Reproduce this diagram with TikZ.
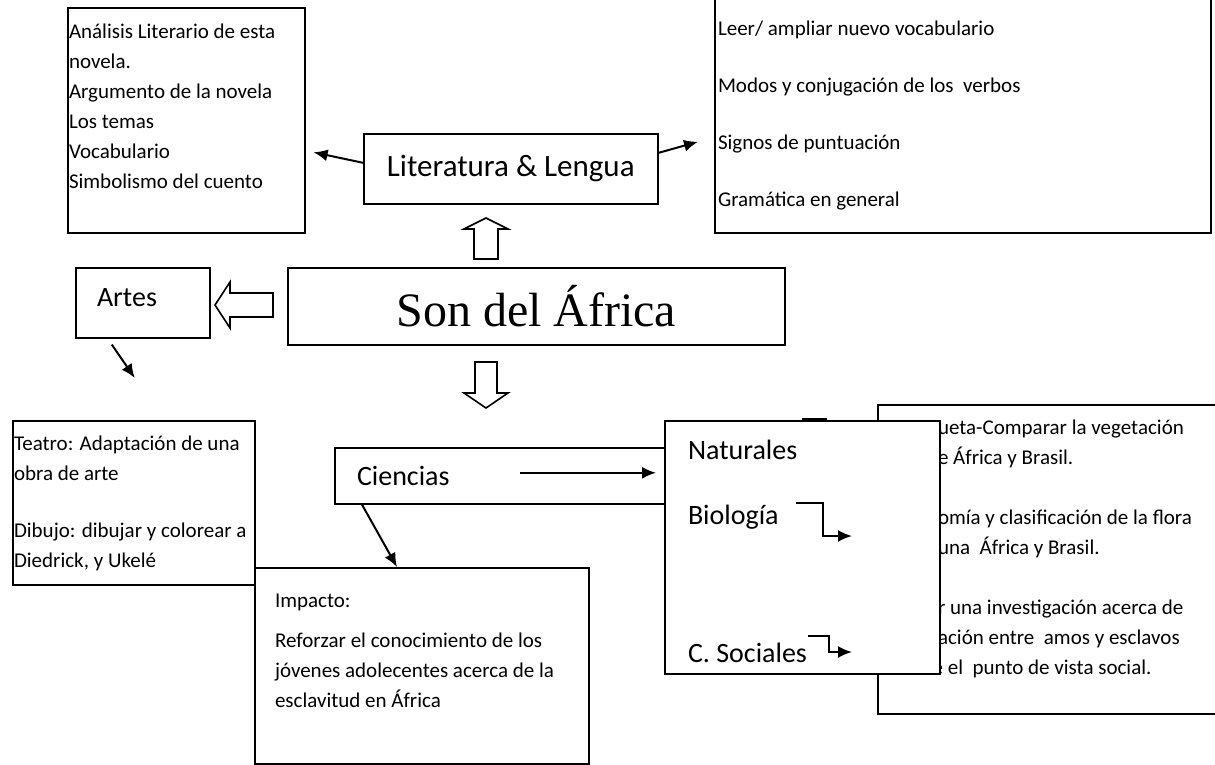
\documentclass[tikz,border=0pt]{standalone}
\usepackage{fontspec}
\setmainfont{Carlito}
\newfontfamily\titlefont{Liberation Serif}
\usetikzlibrary{calc}
\usetikzlibrary{arrows.meta}
\tikzstyle{box}=[draw,line width=1.6pt,rectangle,inner sep=0pt,anchor=north west]
\tikzstyle{boxtext}=[inner sep=0pt,align=left,anchor=base west,font=\fontsize{21}{30}\selectfont]
\tikzstyle{bigtext}=[inner sep=0pt,anchor=west,font=\fontsize{28}{34}\selectfont]
\tikzstyle{blockarr}=[line width=1.6pt,line join=miter]

\begin{document}
\begin{tikzpicture}[x=1pt,y=-1pt,->,>={Latex[length=14pt,width=12pt]},line width=2pt]
	\useasboundingbox (0,0) rectangle (1215,764);
	\clip (0,0) rectangle (1215,764);
	% Literatura & Lengua
	\node[box,minimum width=237,minimum height=225] (analisis) at (67,7) {};
	\node[boxtext] (analisisT) at (68,188) {Análisis Literario de esta\\novela.\\Argumento de la novela\\Los temas\\Vocabulario\\Simbolismo del cuento};
	\node[box,minimum width=294,minimum height=70,font=\fontsize{31}{36}\selectfont] (lit) at (363,133) {Literatura \& Lengua};
	\node[box,minimum width=496,minimum height=235] (lengua) at (714,-3) {};
	\node[boxtext] (lenguaT) at (717,206) {Leer/ ampliar nuevo vocabulario\\[27pt]Modos y conjugación de los\ \ verbos\\[27pt]Signos de puntuación\\[27pt]Gramática en general};
	% centro
	\node[box,minimum width=497,minimum height=77,font=\titlefont\fontsize{48}{56}\selectfont] (son) at (287,267) {Son del África};
	\node[box,minimum width=134,minimum height=70] (artes) at (75,267) {};
	\node[bigtext] (artesT) at (96,298) {Artes};
	\draw[-,blockarr] (474,259) -- (474,229) -- (464,229) -- (486,218) -- (508,229) -- (498,229) -- (498,259) -- cycle;
	\draw[-,blockarr] (273,293) -- (230,293) -- (230,282) -- (215,305) -- (230,328) -- (230,317) -- (273,317) -- cycle;
	\draw[-,blockarr] (475,362) -- (497,362) -- (497,393) -- (508,393) -- (486,408) -- (464,393) -- (475,393) -- cycle;
	% Artes
	\node[box,minimum width=242,minimum height=164] (teatro) at (12,420) {};
	\node[boxtext] (teatroT) at (13,567) {Teatro: Adaptación de una\\obra de arte\\[27pt]Dibujo: dibujar y colorear a\\Diedrick, y Ukelé};
	% Ciencias
	\node[box,minimum width=345,minimum height=309] (practica) at (877,404) {};
	\node[boxtext] (practicaT) at (937,674) {ueta-Comparar la vegetación\\e África y Brasil.\\[30pt]omía y clasificación de la flora\\una\ \ África y Brasil.\\[30pt]r una investigación acerca de\\ación entre\ \ amos y esclavos\\\hspace*{-46pt}desde el\ \ punto de vista social.};
	\node[box,minimum width=380,minimum height=56] (ciencias) at (334,447) {};
	\node[bigtext] (cienciasT) at (356,476) {Ciencias};
	\node[box,minimum width=23,minimum height=20] (ghost) at (802,418) {};
	\node[box,fill=white,minimum width=275,minimum height=253] (naturales) at (664,420) {};
	\node[bigtext] (natT) at (687,450) {Naturales};
	\node[bigtext] (bioT) at (687,517) {Biología};
	\node[bigtext] (socT) at (687,653) {C. Sociales};
	\node[box,minimum width=334,minimum height=196] (impacto) at (254,567) {};
	\node[boxtext] (impactoT) at (274,707) {Impacto:\\[10pt]Reforzar el conocimiento de los\\jóvenes adolecentes acerca de la\\esclavitud en África};
	\coordinate (cStart) at ($(ciencias.west)+(186,-3)$);
	\coordinate (bioS) at (796,503);
	\coordinate (bioE) at (852,536);
	\coordinate (socS) at (808,636);
	\coordinate (socE) at (852,652);
	\path
		([yshift=6pt]lit.west)	edge[]	($(analisis.east)+(8,32)$)
		([yshift=16pt]lit.east)	edge[]	($(lengua.west)+(-16,26.5)$)
		($(artes.south)+(-31,6)$)	edge[]	($(teatro.north)+(1,-42)$)
		($(ciencias.south west)+(28,0)$)	edge[]	($(impacto.north west)+(143,0)$)
		(cStart)	edge[]	($(cStart -| naturales.west)+(-8,0)$);
	\draw (bioS) -- ++(27,0) |- (bioE);
	\draw (socS) -- ++(21,0) |- (socE);
\end{tikzpicture}
\end{document}
